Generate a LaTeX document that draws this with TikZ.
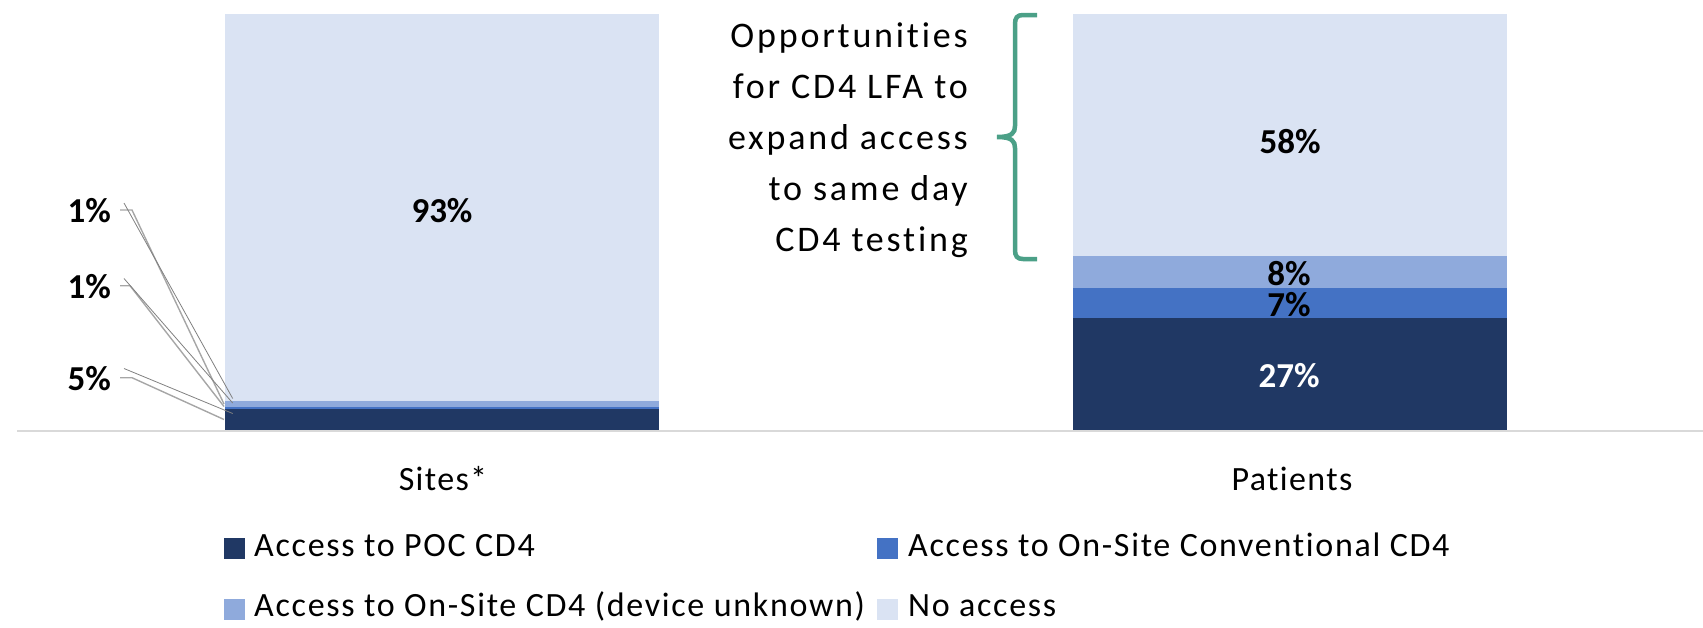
\documentclass[tikz,border=0pt]{standalone}
\usepackage{fontspec}
\setmainfont{Carlito}[Ligatures=NoCommon]
\newfontfamily\catfont{Carlito}[LetterSpace=4, Ligatures=NoCommon]
\newfontfamily\legfont{Carlito}[LetterSpace=5, Ligatures=NoCommon]
\newfontfamily\oppfont{Carlito}[LetterSpace=7.8, Ligatures=NoCommon]
\definecolor{cpoc}{RGB}{32,56,100}
\definecolor{cconv}{RGB}{68,114,196}
\definecolor{cunk}{RGB}{143,170,220}
\definecolor{cnone}{RGB}{218,227,243}
\definecolor{cbrace}{RGB}{75,160,135}
\definecolor{caxis}{RGB}{217,217,217}
\definecolor{clead}{RGB}{166,166,166}
\definecolor{cleadthin}{RGB}{128,128,128}
\tikzset{
  pct/.style={font=\fontsize{35}{42}\selectfont\bfseries, inner sep=0pt},
  cat/.style={font=\catfont\fontsize{34}{40}\selectfont, inner sep=0pt, anchor=base},
  legtxt/.style={font=\legfont\fontsize{34}{40}\selectfont, inner sep=0pt, anchor=base west},
  legbox/.style={minimum width=21pt, minimum height=21pt, inner sep=0pt, draw=none},
  opptxt/.style={font=\oppfont\fontsize{36}{42}\selectfont, inner sep=0pt, anchor=base east},
  leadthick/.style={draw=clead, line width=1.4pt},
  leadthin/.style={draw=cleadthin, line width=0.8pt},
}
\begin{document}
\begin{tikzpicture}[x=1pt,y=-1pt]
\useasboundingbox (0,0) rectangle (1703,627);
% Sites bar
\fill[cpoc] (225,409) rectangle (659,430);
\fill[cconv] (225,407) rectangle (659,409);
\fill[cunk] (225,401) rectangle (659,407);
\fill[cnone] (225,14) rectangle (659,401);
% Patients bar
\fill[cpoc] (1073,318) rectangle (1507,430);
\fill[cconv] (1073,288) rectangle (1507,318);
\fill[cunk] (1073,256) rectangle (1507,288);
\fill[cnone] (1073,14) rectangle (1507,256);
% axis
\draw[caxis, line width=2pt] (17,431) -- (1703,431);
% percentage labels
\node[pct, anchor=base] (s93) at (442,222) {93\%};
\node[pct, anchor=base] (p58) at (1290,153) {58\%};
\node[pct, anchor=base] (p8) at (1289,285) {8\%};
\node[pct, anchor=base] (p7) at (1289,316) {7\%};
\node[pct, anchor=base, text=white] (p27) at (1289,387) {27\%};
% left labels
\node[pct, anchor=base east] (l1a) at (111,222.5) {1\%};
\node[pct, anchor=base east] (l1b) at (111,298) {1\%};
\node[pct, anchor=base east] (l5) at (111,390) {5\%};
\coordinate (t1a) at (224,404);
\coordinate (t1b) at (224,406.5);
\coordinate (t5) at (224,419.5);
\coordinate (u1a) at (232.7,398.5);
\coordinate (u1b) at (232.7,403);
\coordinate (u5) at (232.7,413.5);
\draw[leadthick] (120,210) -- (132,210) -- (t1a);
\draw[leadthick] (120,285.7) -- (130,285.7) -- (t1b);
\draw[leadthick] (120,377.7) -- (132,377.7) -- (t5);
\draw[leadthin] (124,203) -- (u1a);
\draw[leadthin] (124,278.5) -- (u1b);
\draw[leadthin] (124,368.5) -- (u5);
% category labels
\node[cat] (sites) at (443,490) {Sites*};
\node[cat] (patients) at (1292,490) {Patients};
% brace
\draw[cbrace, line width=4.5pt, line cap=butt]
  (1037,15) -- (1023,15) .. controls (1017,15) and (1015,18) .. (1015,24)
  -- (1015,126) .. controls (1015,133) and (1012,137) .. (997,137)
  .. controls (1012,137) and (1015,141) .. (1015,148)
  -- (1015,250) .. controls (1015,256) and (1017,259) .. (1023,259) -- (1037,259);
\node[opptxt] (o1) at (968,47) {Opportunities};
\node[opptxt] (o2) at (968,98) {for CD4 LFA to};
\node[opptxt] (o3) at (968,149) {expand access};
\node[opptxt] (o4) at (968,200) {to same day};
\node[opptxt] (o5) at (968,251) {CD4 testing};
% legend
\node[legbox, fill=cpoc] (k1) at (234.5,548.5) {};
\node[legtxt] (k1t) at (254,556) {Access to POC CD4};
\node[legbox, fill=cconv] (k2) at (887.5,548.5) {};
\node[legtxt] (k2t) at (908,556) {Access to On-Site Conventional CD4};
\node[legbox, fill=cunk] (k3) at (234.5,609) {};
\node[legtxt] (k3t) at (254,616) {Access to On-Site CD4 (device unknown)};
\node[legbox, fill=cnone] (k4) at (887.5,609) {};
\node[legtxt] (k4t) at (908,616) {No access};
\end{tikzpicture}
\end{document}
